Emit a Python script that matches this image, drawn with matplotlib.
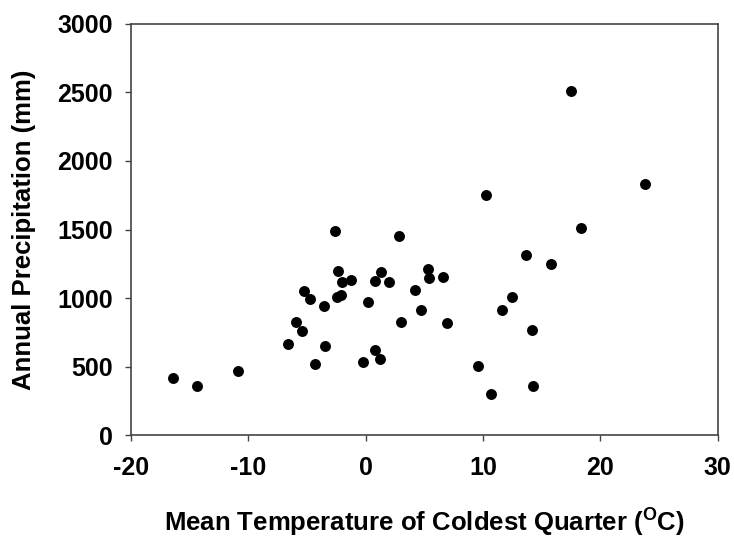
import matplotlib
matplotlib.use('Agg')
import matplotlib.pyplot as plt
import numpy as np

# mean temperature of coldest quarter (deg C) and annual precipitation (mm)
temp = [-16.45, -14.38, -10.86, -6.6, -5.94, -5.46, -5.24, -4.75, -4.3, -3.53,
        -3.5, -2.37, -2.43, -2.14, -2.0, -1.23, -0.2, 0.21, 0.81, 1.21,
        0.81, 1.27, 2.0, 3.0, 4.19, -2.62, 2.86, 17.45, 10.26, 23.81,
        18.3, 13.62, 15.78, 5.3, 5.41, 6.61, 4.7, 6.92, 12.45, 11.57,
        14.16, 9.53, 14.24, 10.64]
precip = [414, 357, 465, 664, 825, 757, 1051, 995, 518, 939,
          647, 1197, 1010, 1022, 1117, 1129, 533, 971, 620, 552,
          1124, 1190, 1119, 825, 1062, 1489, 1455, 2513, 1752, 1832,
          1508, 1314, 1246, 1212, 1148, 1156, 912, 818, 1005, 912,
          766, 506, 360, 297]

xticks = [-20, -10, 0, 10, 20, 30]
yticks = [0, 500, 1000, 1500, 2000, 2500, 3000]

plt.rcParams['font.family'] = ['Liberation Sans', 'DejaVu Sans']
plt.rcParams['font.weight'] = 'bold'
plt.rcParams['axes.unicode_minus'] = False
plt.rcParams['mathtext.fontset'] = 'custom'
plt.rcParams['mathtext.bf'] = 'Liberation Sans:bold'
plt.rcParams['mathtext.rm'] = 'Liberation Sans:bold'

fig = plt.figure(figsize=(7.34, 5.4), dpi=100)
ax = fig.add_axes([0.1785, 0.1944, 0.7995, 0.7612])

ax.scatter(temp, precip, s=62, color='black', zorder=3, linewidths=0)

ax.set_xlim(-20, 30)
ax.set_ylim(0, 3000)
ax.set_xticks(xticks)
ax.set_yticks(yticks)
ax.tick_params(direction='out', length=4.3, width=1, color='#444444',
               labelsize=18)
ax.tick_params(axis='y', pad=9)
ax.tick_params(axis='x', pad=11)
for lab in ax.get_xticklabels() + ax.get_yticklabels():
    lab.set_fontweight('bold')
for sp in ax.spines.values():
    sp.set_color('#444444')
    sp.set_linewidth(1.2)

ax.set_xlabel(r'Mean Temperature of Coldest Quarter ($\mathbf{^{O}}$C)',
              fontsize=18.5, fontweight='bold', labelpad=19)
ax.set_ylabel('Annual Precipitation (mm)', fontsize=18.5, fontweight='bold',
              labelpad=15)

fig.savefig('out.png', dpi=100)
